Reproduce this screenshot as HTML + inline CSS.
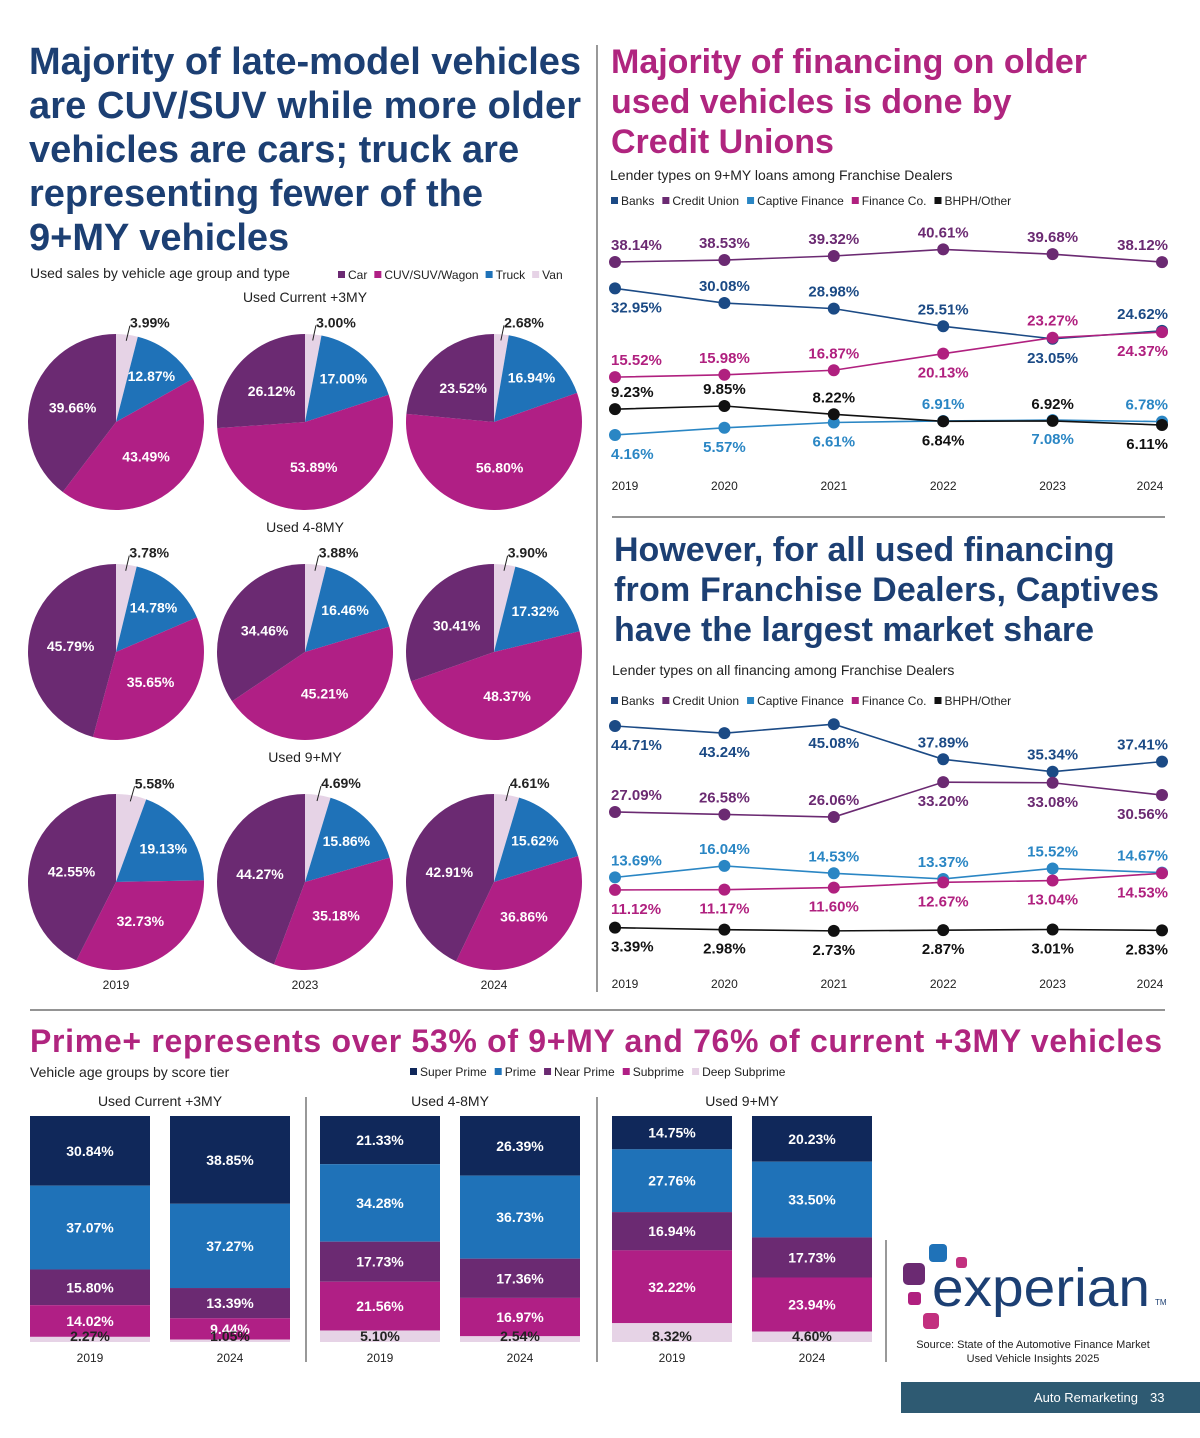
<!DOCTYPE html>
<html><head><meta charset="utf-8">
<style>
html,body{margin:0;padding:0;background:#fff;}
svg{display:block;font-family:"Liberation Sans",Arial,sans-serif;}
</style></head>
<body>
<svg id="s" width="1200" height="1438" viewBox="0 0 1200 1438" xmlns="http://www.w3.org/2000/svg">
<rect width="1200" height="1438" fill="#fff"/>
<g font-size="38" font-weight="bold" fill="#1c3f73">
<text x="29" y="74" textLength="552">Majority of late-model vehicles</text>
<text x="29" y="118" textLength="552">are CUV/SUV while more older</text>
<text x="29" y="162">vehicles are cars; truck are</text>
<text x="29" y="206">representing fewer of the</text>
<text x="29" y="250">9+MY vehicles</text>
</g>
<g font-size="34" font-weight="bold" fill="#b0257f">
<text x="611" y="73">Majority of financing on older</text>
<text x="611" y="113">used vehicles is done by</text>
<text x="611" y="153">Credit Unions</text>
</g>
<g font-size="34" font-weight="bold" fill="#1c3f73">
<text x="614" y="561">However, for all used financing</text>
<text x="614" y="601" textLength="545">from Franchise Dealers, Captives</text>
<text x="614" y="641">have the largest market share</text>
</g>
<text x="30" y="1052" font-size="32" font-weight="bold" fill="#b0257f" textLength="1132">Prime+ represents over 53% of 9+MY and 76% of current +3MY vehicles</text>

<text x="30" y="278" font-size="14" fill="#222">Used sales by vehicle age group and type</text>
<text x="610" y="180" font-size="14" fill="#222">Lender types on 9+MY loans among Franchise Dealers</text>
<text x="612" y="675" font-size="14" fill="#222">Lender types on all financing among Franchise Dealers</text>
<text x="30" y="1077" font-size="14" fill="#222">Vehicle age groups by score tier</text>

<g stroke="#555" stroke-width="1.2">
<line x1="597" y1="45" x2="597" y2="992"/>
<line x1="612" y1="517" x2="1165" y2="517"/>
<line x1="30" y1="1010" x2="1165" y2="1010"/>
<line x1="306" y1="1097" x2="306" y2="1362"/>
<line x1="597" y1="1097" x2="597" y2="1362"/>
<line x1="886" y1="1240" x2="886" y2="1362"/>
</g>
<g id="pies"></g>
<g id="lines1"></g>
<g id="lines2"></g>
<g id="bars"></g>

<g>
<rect x="929" y="1244" width="18" height="18" rx="4" fill="#1f72b8"/>
<rect x="956" y="1257" width="11" height="11" rx="3" fill="#c2307f"/>
<rect x="903" y="1263" width="22" height="22" rx="5" fill="#6b2a72"/>
<rect x="908" y="1292" width="13" height="13" rx="3" fill="#b0207f"/>
<rect x="923" y="1313" width="16" height="16" rx="4" fill="#c2307f"/>
<text x="932" y="1306" font-size="54" fill="#1c3f73" textLength="218" lengthAdjust="spacingAndGlyphs">experian</text>
<text x="1155" y="1305" font-size="8" fill="#1c3f73">TM</text>
</g>
<g font-size="11" fill="#222" text-anchor="middle">
<text x="1033" y="1348">Source: State of the Automotive Finance Market</text>
<text x="1033" y="1362">Used Vehicle Insights 2025</text>
</g>
<g>
<rect x="901" y="1382" width="299" height="31" fill="#2e5a72"/>
<text x="1138" y="1402" font-size="13" fill="#fff" text-anchor="end">Auto Remarketing</text>
<text x="1150" y="1402" font-size="13" fill="#fff">33</text>
</g>
</svg>
<script>
// ---------- PIE DATA ----------
const pieTypes = ["Car","CUV/SUV/Wagon","Truck","Van"];
const pieRows = ["Used Current +3MY","Used 4-8MY","Used 9+MY"];
const pieYears = ["2019","2023","2024"];
const pieCar   = [[39.66,26.12,23.52],[45.79,34.46,30.41],[42.55,44.27,42.91]];
const pieCuv   = [[43.49,53.89,56.80],[35.65,45.21,48.37],[32.73,35.18,36.86]];
const pieTruck = [[12.87,17.00,16.94],[14.78,16.46,17.32],[19.13,15.86,15.62]];
const pieVan   = [[3.99,3.00,2.68],[3.78,3.88,3.90],[5.58,4.69,4.61]];

// ---------- LINE CHART 1 ----------
const years = ["2019","2020","2021","2022","2023","2024"];
const lenderNames = ["Banks","Credit Union","Captive Finance","Finance Co.","BHPH/Other"];
const l1Banks   = [32.95,30.08,28.98,25.51,23.05,24.62];
const l1CU      = [38.14,38.53,39.32,40.61,39.68,38.12];
const l1Captive = [4.16,5.57,6.61,6.91,7.08,6.78];
const l1Finance = [15.52,15.98,16.87,20.13,23.27,24.37];
const l1BHPH    = [9.23,9.85,8.22,6.84,6.92,6.11];
const l1BanksSide   = ["b","a","a","a","b","a"];
const l1CUSide      = ["a","a","a","a","a","a"];
const l1CaptiveSide = ["b","b","b","a","b","a"];
const l1FinanceSide = ["a","a","a","b","a","b"];
const l1BHPHSide    = ["a","a","a","b","a","b"];

// ---------- LINE CHART 2 ----------
const l2Banks   = [44.71,43.24,45.08,37.89,35.34,37.41];
const l2CU      = [27.09,26.58,26.06,33.20,33.08,30.56];
const l2Captive = [13.69,16.04,14.53,13.37,15.52,14.67];
const l2Finance = [11.12,11.17,11.60,12.67,13.04,14.53];
const l2BHPH    = [3.39,2.98,2.73,2.87,3.01,2.83];
const l2BanksSide   = ["b","b","b","a","a","a"];
const l2CUSide      = ["a","a","a","b","b","b"];
const l2CaptiveSide = ["a","a","a","a","a","a"];
const l2FinanceSide = ["b","b","b","b","b","b"];
const l2BHPHSide    = ["b","b","b","b","b","b"];

// ---------- BAR DATA ----------
const tiers = ["Super Prime","Prime","Near Prime","Subprime","Deep Subprime"];
const barGroups = ["Used Current +3MY","Used 4-8MY","Used 9+MY"];
const barYears = ["2019","2024"];
const barSuper = [[30.84,38.85],[21.33,26.39],[14.75,20.23]];
const barPrime = [[37.07,37.27],[34.28,36.73],[27.76,33.50]];
const barNear  = [[15.80,13.39],[17.73,17.36],[16.94,17.73]];
const barSub   = [[14.02,9.44],[21.56,16.97],[32.22,23.94]];
const barDeep  = [[2.27,1.05],[5.10,2.54],[8.32,4.60]];

const NS="http://www.w3.org/2000/svg";
function mk(parent,tag,attrs,txt){const e=document.createElementNS(NS,tag);for(const k in attrs)e.setAttribute(k,attrs[k]);if(txt!==undefined)e.textContent=txt;parent.appendChild(e);return e;}
const C={car:"#6b2a72",cuv:"#b01f85",truck:"#1f72b8",van:"#e6d3e6",navy:"#10285a",banks:"#1b4a85",cu:"#6b2a72",cap:"#2a86c4",fin:"#b0207f",bh:"#111"};
function fmt(v){return v.toFixed(2)+"%";}

function legend(parent,x,y,names,cols,gap){
  let cx=x;
  names.forEach((n,i)=>{
    const g=mk(parent,"g",{});
    
    
    mk(g,"rect",{x:cx,y:y-8,width:7,height:7,fill:cols[i]});
    const t=mk(g,"text",{x:cx+10,y:y,"font-size":12,fill:"#222"},n);
    let w=n.length*6.3;
    try{w=t.getComputedTextLength();}catch(e){}
    cx+=10+w+gap;
  });
}

// ---- pies ----
const pies=document.getElementById('pies');
legend(pies,338,279,pieTypes,[C.car,C.cuv,C.truck,C.van],7);
const pcx=[116,305,494], pcy=[422,652,882], R=88;
pieRows.forEach((rn,r)=>{
  const t=mk(pies,"text",{x:305,y:pcy[r]-120,"font-size":14,"text-anchor":"middle",fill:"#222"},rn);
  
  
  pieYears.forEach((yr,c)=>{
    const cx=pcx[c],cy=pcy[r];
    const vals=[pieVan[r][c],pieTruck[r][c],pieCuv[r][c],pieCar[r][c]];
    const cols=[C.van,C.truck,C.cuv,C.car];
    const names=["van","truck","cuv","car"];
    const tot=vals.reduce((a,b)=>a+b,0);
    let a0=0;
    vals.forEach((v,i)=>{
      const a1=a0+v/tot*2*Math.PI;
      const x0=cx+R*Math.sin(a0),y0=cy-R*Math.cos(a0),x1=cx+R*Math.sin(a1),y1=cy-R*Math.cos(a1);
      const p=mk(pies,"path",{d:`M${cx},${cy}L${x0},${y0}A${R},${R} 0 ${a1-a0>Math.PI?1:0} 1 ${x1},${y1}Z`,fill:cols[i]});
      
      
      const am=(a0+a1)/2;
      if(i===0){
        const lx=cx+R*1.08*Math.sin(am),ly=cy-R*1.08*Math.cos(am);
        mk(pies,"line",{x1:cx+R*0.93*Math.sin(am),y1:cy-R*0.93*Math.cos(am),x2:lx+2,y2:ly-2,stroke:"#222","stroke-width":1});
        const l=mk(pies,"text",{x:lx+22,y:ly,"font-size":14,"font-weight":"bold","text-anchor":"middle",fill:"#222"},fmt(v));
        
        
      } else {
        const f=i===1?0.66:0.52;
        const l=mk(pies,"text",{x:cx+R*f*Math.sin(am),y:cy-R*f*Math.cos(am)+5,"font-size":14,"font-weight":"bold","text-anchor":"middle",fill:"#fff"},fmt(v));
        
        
      }
      a0=a1;
    });
    if(r===2){
      const y=mk(pies,"text",{x:cx,y:989,"font-size":12,"text-anchor":"middle",fill:"#222"},yr);
      
      
    }
  });
});

// ---- line charts ----
function lineChart(id,legY,series,cols,sides,y0v,y0,slope,yearY,names){
  const g=document.getElementById(id);
  legend(g,611,legY,lenderNames,[C.banks,C.cu,C.cap,C.fin,C.bh],8);
  const xs=i=>615+i*109.4;
  const ys=v=>y0+(y0v-v)*slope;
  years.forEach((yr,i)=>{
    const t=mk(g,"text",{x:xs(i)+(i===0?10:(i===5?-12:0)),y:yearY,"font-size":12,"text-anchor":"middle",fill:"#222"},yr);
    
    
  });
  series.forEach((s,k)=>{
    const pl=mk(g,"polyline",{points:s.map((v,i)=>xs(i)+","+ys(v)).join(" "),fill:"none",stroke:cols[k],"stroke-width":1.6});
    
    
  });
  series.forEach((s,k)=>{
    s.forEach((v,i)=>{
      const c=mk(g,"circle",{cx:xs(i),cy:ys(v),r:6,fill:cols[k]});
      
      
      const anchor=i===0?"start":(i===5?"end":"middle");
      const lx=i===0?xs(i)-4:(i===5?xs(i)+6:xs(i));
      const ly=sides[k][i]==="a"?ys(v)-12:ys(v)+24;
      const l=mk(g,"text",{x:lx,y:ly,"font-size":15,"font-weight":"bold","text-anchor":anchor,fill:cols[k]},fmt(v));
      
      
    });
  });
}
lineChart("lines1",205,[l1CU,l1Banks,l1Finance,l1Captive,l1BHPH],[C.cu,C.banks,C.fin,C.cap,C.bh],[l1CUSide,l1BanksSide,l1FinanceSide,l1CaptiveSide,l1BHPHSide],38.14,262,5.09,490,["credit-union","banks","finance-co","captive","bhph"]);
lineChart("lines2",705,[l2Banks,l2CU,l2Captive,l2Finance,l2BHPH],[C.banks,C.cu,C.cap,C.fin,C.bh],[l2BanksSide,l2CUSide,l2CaptiveSide,l2FinanceSide,l2BHPHSide],44.71,726,4.88,988,["banks","credit-union","captive","finance-co","bhph"]);

// ---- bars ----
const bars=document.getElementById('bars');
legend(bars,410,1076,tiers,[C.navy,C.truck,C.car,C.cuv,C.van],8);
const gx=[30,320,612], bw=120, barTop=1116, barBot=1342;
const tcols=[C.navy,C.truck,C.car,C.cuv,C.van];
const tnames=["super-prime","prime","near-prime","subprime","deep-subprime"];
barGroups.forEach((gn,gi)=>{
  const t=mk(bars,"text",{x:gx[gi]+130,y:1106,"font-size":14,"text-anchor":"middle",fill:"#222"},gn);
  
  
  barYears.forEach((yr,yi)=>{
    const x=gx[gi]+yi*140;
    const vals=[barSuper[gi][yi],barPrime[gi][yi],barNear[gi][yi],barSub[gi][yi],barDeep[gi][yi]];
    const tot=vals.reduce((a,b)=>a+b,0);
    let y=barTop;
    vals.forEach((v,k)=>{
      const h=v/tot*(barBot-barTop);
      const r=mk(bars,"rect",{x:x,y:y,width:bw,height:h,fill:tcols[k]});
      
      
      const ly=k===4?barBot-1:y+h/2+5;
      const l=mk(bars,"text",{x:x+bw/2,y:ly,"font-size":14,"font-weight":"bold","text-anchor":"middle",fill:k===4?"#222":"#fff"},fmt(v));
      
      
      y+=h;
    });
    const yl=mk(bars,"text",{x:x+bw/2,y:1362,"font-size":12,"text-anchor":"middle",fill:"#222"},yr);
    
    
  });
});
</script>
</body></html>
